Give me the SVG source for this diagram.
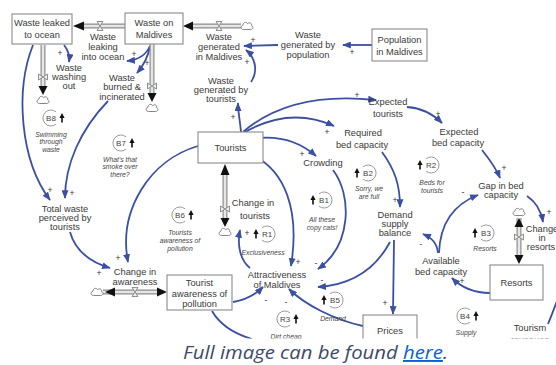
<svg xmlns="http://www.w3.org/2000/svg" width="556" height="365" viewBox="0 0 556 365">
<defs>
<style>
.box{fill:#fff;stroke:#8a8a8a;stroke-width:1.1}
.t{font-family:"Liberation Sans",Arial,sans-serif;font-size:9.3px;fill:#3a3a3a;text-anchor:middle}
.s{font-family:"Liberation Sans",Arial,sans-serif;font-size:8.5px;fill:#333;text-anchor:middle}
.li{font-family:"Liberation Sans",Arial,sans-serif;font-size:6.8px;font-style:italic;fill:#444;text-anchor:middle}
.ln{font-family:"Liberation Sans",Arial,sans-serif;font-size:8px;fill:#444;text-anchor:middle}
.c{fill:none;stroke:#3b4fa3;stroke-width:1.8;marker-end:url(#a)}
.cn{fill:none;stroke:#3b4fa3;stroke-width:1.8}
.po{stroke:#8c8c8c;stroke-width:5;fill:none}
.pi{stroke:#e6e6e6;stroke-width:2.6;fill:none}
.ah{fill:#111}
.cl{fill:#fff;stroke:#777;stroke-width:0.9}
.v{fill:#eee;stroke:#777;stroke-width:0.8}
.lp{fill:none;stroke:#9a9a9a;stroke-width:1}
.ua{fill:#111}
</style>
<marker id="a" viewBox="0 0 10 8" refX="9" refY="4" markerWidth="9" markerHeight="7" markerUnits="userSpaceOnUse" orient="auto"><path d="M0,0 L10,4 L0,8 Z" fill="#3b4fa3"/></marker>
<path id="cloud" d="M-3.5,3.5 C-6.5,3.5 -6.8,-0.3 -4,-0.8 C-4.2,-3.8 -0.5,-4.6 0.6,-2.3 C2.3,-4.2 5.4,-2.8 4.6,-0.2 C6.8,0.5 6.3,3.5 3.6,3.5 Z"/>
<path id="valve" d="M-3,-4.5 L3,-4.5 L-3,4.5 L3,4.5 Z"/>
<path id="up" d="M0,-5 L2.6,0 L0.8,0 L0.8,4.5 L-0.8,4.5 L-0.8,0 L-2.6,0 Z"/>
<path id="gr" d="M5.1,-6.1 A8,8 0 1 0 5.1,6.1"/>
<path id="gl" d="M-5.1,-6.1 A8,8 0 1 1 -5.1,6.1"/>
<clipPath id="clip"><rect x="0" y="0" width="556" height="338.5"/></clipPath>
</defs>
<rect width="556" height="365" fill="#fff"/>
<g clip-path="url(#clip)">
<g id="connectors">
<path class="c" d="M150,46 C146,55 138,60 127,61"/>
<path class="c" d="M150,46 C148,58 143,66 137,73"/>
<path class="c" d="M64,45 C68,50 70,55 69,62"/>
<path class="c" d="M33,45 C15,90 20,160 50,200"/>
<path class="c" d="M108,101 C80,130 65,165 65,198"/>
<path class="c" d="M70,232 C75,250 90,262 110,268"/>
<path class="c" d="M198,146 C150,160 118,210 128,262"/>
<path class="c" d="M241,132 C240,120 238,112 238,103"/>
<path class="c" d="M251,82 C258,72 256,58 246,50"/>
<path class="c" d="M278,45 L244,46"/>
<path class="c" d="M372,45 L343,45"/>
<path class="c" d="M243,132 C280,100 330,95 376,100"/>
<path class="c" d="M245,132 C275,115 305,113 334,126"/>
<path class="c" d="M258,138 C280,136 300,142 316,156"/>
<path class="c" d="M252,155 C285,170 300,210 291,266"/>
<path class="c" d="M333,170 C352,195 352,245 318,269"/>
<path class="c" d="M390,242 C375,270 350,285 318,287"/>
<path class="c" d="M382,152 C395,170 400,185 400,207"/>
<path class="c" d="M394,240 L393,314"/>
<path class="c" d="M438,253 C437,243 432,238 423,234"/>
<path class="c" d="M439,253 C440,225 452,205 478,195"/>
<path class="c" d="M407,107 C420,108 432,113 442,123"/>
<path class="c" d="M482,150 C490,160 496,168 500,178"/>
<path class="c" d="M527,196 C536,202 541,210 543,222"/>
<path class="c" d="M490,293 C475,293 462,288 452,278"/>
<path class="c" d="M233,302 C245,300 255,295 263,287"/>
<path class="c" d="M363,326 C335,320 305,305 289,289"/>
<path class="c" d="M250,268 C240,260 237,245 240,230"/>
<path class="cn" d="M212,311 C220,325 235,334 252,339"/>
<path class="cn" d="M548,324 C551,317 554,309 557,301"/>
</g>
<g id="signs" class="s">
<text x="134" y="57">+</text><text x="147" y="66">+</text><text x="60" y="56">+</text>
<text x="50" y="193">+</text><text x="72" y="196">+</text><text x="99" y="276">+</text>
<text x="118" y="261">+</text><text x="233" y="120">+</text><text x="247" y="65">+</text>
<text x="253" y="43">+</text><text x="352" y="55">+</text><text x="357" y="98">+</text>
<text x="327" y="135">+</text><text x="302" y="157">+</text><text x="298" y="265">+</text>
<text x="316" y="266">-</text><text x="322" y="283">-</text><text x="395" y="203">+</text>
<text x="385" y="306">+</text><text x="421" y="247">-</text><text x="463" y="195">-</text>
<text x="438" y="117">+</text><text x="504" y="171">+</text><text x="549" y="215">+</text>
<text x="462" y="284">+</text><text x="266" y="303">-</text><text x="286" y="305">-</text>
<text x="247" y="236">+</text>
</g>
<g id="pipes">
<path class="po" d="M84,26 L125,26"/><path class="pi" d="M84,26 L125,26"/>
<polygon class="ah" points="73,26 84,21.5 84,30.5"/><use href="#valve" class="v" transform="translate(100,26)"/>
<path class="po" d="M193,26 L241,26"/><path class="pi" d="M193,26 L241,26"/>
<polygon class="ah" points="183,26 193,21.5 193,30.5"/><use href="#valve" class="v" transform="translate(219,26)"/>
<use href="#cloud" class="cl" transform="translate(247,26)"/>
<path class="po" d="M43,45 L43,87"/><path class="pi" d="M43,45 L43,87"/>
<polygon class="ah" points="43,95 38.5,86 47.5,86"/><use href="#valve" class="v" transform="translate(43,77) rotate(90)"/>
<use href="#cloud" class="cl" transform="translate(43,100)"/>
<path class="po" d="M152,44 L152,94"/><path class="pi" d="M152,44 L152,94"/>
<polygon class="ah" points="152,102 147.5,93 156.5,93"/><use href="#valve" class="v" transform="translate(152,86) rotate(90)"/>
<use href="#cloud" class="cl" transform="translate(152,108)"/>
<path class="po" d="M225,175 L225,218"/><path class="pi" d="M225,175 L225,218"/>
<polygon class="ah" points="225,164 220.5,175 229.5,175"/><polygon class="ah" points="225,227 220.5,218 229.5,218"/>
<use href="#valve" class="v" transform="translate(225,209) rotate(90)"/>
<use href="#cloud" class="cl" transform="translate(225,232)"/>
<path class="po" d="M103,292 L157,292"/><path class="pi" d="M103,292 L157,292"/>
<polygon class="ah" points="105,292 115,287.5 115,296.5"/><polygon class="ah" points="167,292 157,287.5 157,296.5"/>
<use href="#valve" class="v" transform="translate(135,292)"/>
<use href="#cloud" class="cl" transform="translate(97,292)"/>
<path class="po" d="M519,218 L519,255"/><path class="pi" d="M519,218 L519,255"/>
<polygon class="ah" points="519,218 514.5,227 523.5,227"/><polygon class="ah" points="519,264 514.5,255 523.5,255"/>
<use href="#valve" class="v" transform="translate(519,237) rotate(90)"/>
<use href="#cloud" class="cl" transform="translate(519,212)"/>
</g>
<g id="waste-leaked"><rect class="box" x="12" y="14" width="60" height="30"/><text class="t" x="42" y="26.4">Waste leaked</text><text class="t" x="42" y="38.4">to ocean</text></g>
<g id="waste-on-maldives"><rect class="box" x="125" y="13" width="58" height="31"/><text class="t" x="154" y="26.4">Waste on</text><text class="t" x="154" y="37.6">Maldives</text></g>
<g id="population"><rect class="box" x="372" y="29" width="55" height="32"/><text class="t" x="399.5" y="42.5">Population</text><text class="t" x="399.5" y="55">in Maldives</text></g>
<g id="tourists"><rect class="box" x="198" y="132" width="65" height="31"/><text class="t" x="230.5" y="151">Tourists</text></g>
<g id="tourist-awareness"><rect class="box" x="167" y="275" width="65" height="35"/><text class="t" x="199.5" y="286">Tourist</text><text class="t" x="199.5" y="296.5">awareness of</text><text class="t" x="199.5" y="307">pollution</text></g>
<g id="resorts"><rect class="box" x="490" y="265" width="53" height="35"/><text class="t" x="516.5" y="286">Resorts</text></g>
<g id="prices"><rect class="box" x="363" y="315" width="54" height="30"/><text class="t" x="390" y="334">Prices</text></g>
<g id="waste-leaking"><text class="t" x="103" y="40.4">Waste</text><text class="t" x="103" y="50.4">leaking</text><text class="t" x="103" y="60.4">into ocean</text></g>
<g id="waste-washing"><text class="t" x="69" y="71">Waste</text><text class="t" x="69" y="80">washing</text><text class="t" x="69" y="89">out</text></g>
<g id="waste-burned"><text class="t" x="122" y="80.5">Waste</text><text class="t" x="122" y="90">burned &amp;</text><text class="t" x="122" y="99.5">incinerated</text></g>
<g id="waste-generated"><text class="t" x="219" y="40.4">Waste</text><text class="t" x="219" y="50.4">generated</text><text class="t" x="219" y="60.4">in Maldives</text></g>
<g id="waste-by-population"><text class="t" x="308" y="38.4">Waste</text><text class="t" x="308" y="48.4">generated by</text><text class="t" x="308" y="58.4">population</text></g>
<g id="waste-by-tourists"><text class="t" x="221" y="84.4">Waste</text><text class="t" x="221" y="93.4">generated by</text><text class="t" x="221" y="102.4">tourists</text></g>
<g id="expected-tourists"><text class="t" x="388" y="105.4">Expected</text><text class="t" x="388" y="117.4">tourists</text></g>
<g id="required-bed"><text class="t" x="363" y="136.4">Required</text><text class="t" x="362" y="148.4">bed capacity</text></g>
<g id="crowding"><text class="t" x="323" y="166.4">Crowding</text></g>
<g id="expected-bed"><text class="t" x="459" y="135.4">Expected</text><text class="t" x="458" y="146.4">bed capacity</text></g>
<g id="gap"><text class="t" x="501" y="189.4">Gap in bed</text><text class="t" x="501" y="198.4">capacity</text></g>
<g id="change-resorts"><text class="t" x="542" y="232">Change</text><text class="t" x="542" y="241">in</text><text class="t" x="541" y="249.5">resorts</text></g>
<g id="demand-supply"><text class="t" x="395" y="218.4">Demand</text><text class="t" x="395" y="227.4">supply</text><text class="t" x="395" y="236.4">balance</text></g>
<g id="available-bed"><text class="t" x="441" y="264.4">Available</text><text class="t" x="441" y="275.4">bed capacity</text></g>
<g id="tourism-revenues"><text class="t" x="530" y="331.4">Tourism</text><text class="t" x="530" y="342.5">revenues</text></g>
<g id="attractiveness"><text class="t" x="277" y="278.4">Attractiveness</text><text class="t" x="277" y="288.4">of Maldives</text></g>
<g id="change-tourists"><text class="t" x="253" y="206.4">Change in</text><text class="t" x="255" y="219">tourists</text></g>
<g id="change-awareness"><text class="t" x="135" y="275.4">Change in</text><text class="t" x="135" y="285.4">awareness</text></g>
<g id="total-waste"><text class="t" x="65" y="212.4">Total waste</text><text class="t" x="65" y="221.4">perceived by</text><text class="t" x="65" y="230.4">tourists</text></g>
<g id="loop-B8" transform="translate(51,118)"><use href="#gr" class="lp"/><text class="ln" y="2.8">B8</text><use href="#up" class="ua" x="11"/><text class="li" y="18.5">Swimming</text><text class="li" y="26">through</text><text class="li" y="33.5">waste</text></g>
<g id="loop-B7" transform="translate(121,143)"><use href="#gr" class="lp"/><text class="ln" y="2.8">B7</text><use href="#up" class="ua" x="11"/><text class="li" x="-1" y="18.5">What's that</text><text class="li" x="-1" y="26">smoke over</text><text class="li" x="-1" y="33.5">there?</text></g>
<g id="loop-B6" transform="translate(180,215)"><use href="#gr" class="lp"/><text class="ln" y="2.8">B6</text><use href="#up" class="ua" x="11"/><text class="li" y="19.5">Tourists</text><text class="li" y="27.5">awareness of</text><text class="li" y="35.5">pollution</text></g>
<g id="loop-B1" transform="translate(324,200)"><use href="#gl" class="lp"/><text class="ln" y="2.8">B1</text><use href="#up" class="ua" x="-11"/><text class="li" x="-2" y="21.5">All these</text><text class="li" x="-2" y="29.5">copy cats!</text></g>
<g id="loop-B2" transform="translate(368,173)"><use href="#gl" class="lp"/><text class="ln" y="2.8">B2</text><use href="#up" class="ua" x="-11"/><text class="li" x="1" y="17.5">Sorry, we</text><text class="li" x="1" y="25.5">are full</text></g>
<g id="loop-R2" transform="translate(431,165)"><use href="#gl" class="lp"/><text class="ln" y="2.8">R2</text><use href="#up" class="ua" x="-11"/><text class="li" x="1" y="19.5">Beds for</text><text class="li" x="1" y="27.5">tourists</text></g>
<g id="loop-R1" transform="translate(267,234)"><use href="#gl" class="lp"/><text class="ln" y="2.8">R1</text><use href="#up" class="ua" x="-11"/><text class="li" x="-4" y="20.5">Exclusiveness</text></g>
<g id="loop-B3" transform="translate(486,233)"><use href="#gl" class="lp"/><text class="ln" y="2.8">B3</text><use href="#up" class="ua" x="-11"/><text class="li" x="-1" y="17.5">Resorts</text></g>
<g id="loop-B5" transform="translate(335,300)"><use href="#gl" class="lp"/><text class="ln" y="2.8">B5</text><use href="#up" class="ua" x="-11"/><text class="li" x="-2" y="20.5">Demand</text></g>
<g id="loop-R3" transform="translate(285,319)"><use href="#gr" class="lp"/><text class="ln" y="2.8">R3</text><use href="#up" class="ua" x="11"/><text class="li" x="1" y="19.5">Dirt cheap</text></g>
<g id="loop-B4" transform="translate(465,316)"><use href="#gr" class="lp"/><text class="ln" y="2.8">B4</text><use href="#up" class="ua" x="11"/><text class="li" x="1" y="18.5">Supply</text></g>
</g>
<text x="183" y="359" font-family="'Open Sans',sans-serif" font-style="italic" font-size="19" fill="#3b4a6b" textLength="265" lengthAdjust="spacingAndGlyphs">Full image can be found <tspan fill="#0b5ed7" text-decoration="underline">here</tspan>.</text>
</svg>
